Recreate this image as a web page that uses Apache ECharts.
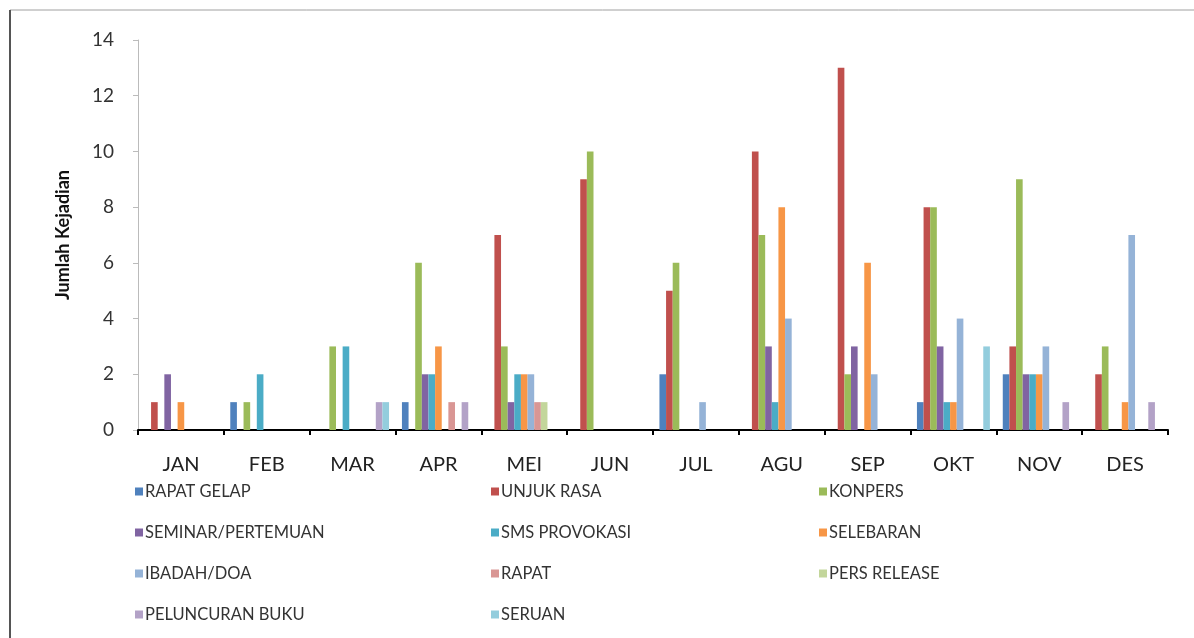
<!DOCTYPE html>
<html><head><meta charset="utf-8">
<script src="https://cdn.jsdelivr.net/npm/echarts@6/dist/echarts.min.js"></script>
<style>html,body{margin:0;padding:0;background:#fff}#c{width:1194px;height:638px}</style>
</head><body><div id="c"></div>
<script>
const months = ['JAN','FEB','MAR','APR','MEI','JUN','JUL','AGU','SEP','OKT','NOV','DES'];
const seriesNames = ['RAPAT GELAP','UNJUK RASA','KONPERS','SEMINAR/PERTEMUAN','SMS PROVOKASI','SELEBARAN','IBADAH/DOA','RAPAT','PERS RELEASE','PELUNCURAN BUKU','SERUAN'];
const rapatGelap  = [0,1,0,1,0,0,2,0,0,1,2,0];
const unjukRasa   = [1,0,0,0,7,9,5,10,13,8,3,2];
const konpers     = [0,1,3,6,3,10,6,7,2,8,9,3];
const seminar     = [2,0,0,2,1,0,0,3,3,3,2,0];
const smsProvokasi= [0,2,3,2,2,0,0,1,0,1,2,0];
const selebaran   = [1,0,0,3,2,0,0,8,6,1,2,1];
const ibadahDoa   = [0,0,0,0,2,0,1,4,2,4,3,7];
const rapat       = [0,0,0,1,1,0,0,0,0,0,0,0];
const persRelease = [0,0,0,0,1,0,0,0,0,0,0,0];
const peluncuran  = [0,0,1,1,0,0,0,0,0,0,1,1];
const seruan      = [0,0,1,0,0,0,0,0,0,3,0,0];
const yTicks = [0,2,4,6,8,10,12,14];

const allData = [rapatGelap,unjukRasa,konpers,seminar,smsProvokasi,selebaran,ibadahDoa,rapat,persRelease,peluncuran,seruan];
const colors = ['#4F81BD','#C0504D','#9BBB59','#8064A2','#4BACC6','#F79646','#95B3D7','#D99694','#C3D69B','#B3A2C7','#93CDDD'];
const font = 'Lato, "Open Sans", sans-serif';

const legendCol = (names, left) => ({
  orient: 'vertical', left: left, top: 478, itemWidth: 8, itemHeight: 8, itemGap: 24,
  icon: 'rect', data: names,
  textStyle: {fontFamily: font, fontSize: 16.5, color: '#333', padding:[0,0,0,-3]}
});

const chart = echarts.init(document.getElementById('c'));
chart.setOption({
  animation: false,
  color: colors,
  graphic: [
    {type:'rect', shape:{x:10,y:10,width:1190,height:640}, style:{fill:'none', stroke:'#a0a0a0', lineWidth:1}},
    {type:'line', shape:{x1:10,y1:10,x2:10,y2:638}, style:{stroke:'#555', lineWidth:2}}
  ],
  grid: {left:138, right:26, top:40, bottom:208, containLabel:false},
  legend: [
    legendCol([seriesNames[0],seriesNames[3],seriesNames[6],seriesNames[9]], 130),
    legendCol([seriesNames[1],seriesNames[4],seriesNames[7],seriesNames[10]], 486),
    legendCol([seriesNames[2],seriesNames[5],seriesNames[8]], 814)
  ],
  xAxis: {
    type:'category', data: months,
    axisLine:{lineStyle:{color:'#000', width:2}},
    axisTick:{show:true, length:5, lineStyle:{color:'#000', width:2}},
    axisLabel:{fontFamily:font, fontSize:20, color:'#222', margin:25}
  },
  yAxis: {
    type:'value', min:yTicks[0], max:yTicks[yTicks.length-1], interval:2,
    name:'Jumlah Kejadian', nameLocation:'middle', nameRotate:90, nameGap:66,
    nameTextStyle:{fontFamily:font, fontSize:18, fontWeight:'bold', color:'#111'},
    axisLine:{show:true, lineStyle:{color:'#bbb', width:1}},
    axisTick:{show:true, length:5, lineStyle:{color:'#bbb'}},
    splitLine:{show:false},
    axisLabel:{fontFamily:font, fontSize:19, color:'#333', margin:24}
  },
  series: allData.map((d,i)=>({
    name: seriesNames[i], type:'bar', data:d,
    barGap:'0%', barCategoryGap:'15%'
  }))
});
</script></body></html>
